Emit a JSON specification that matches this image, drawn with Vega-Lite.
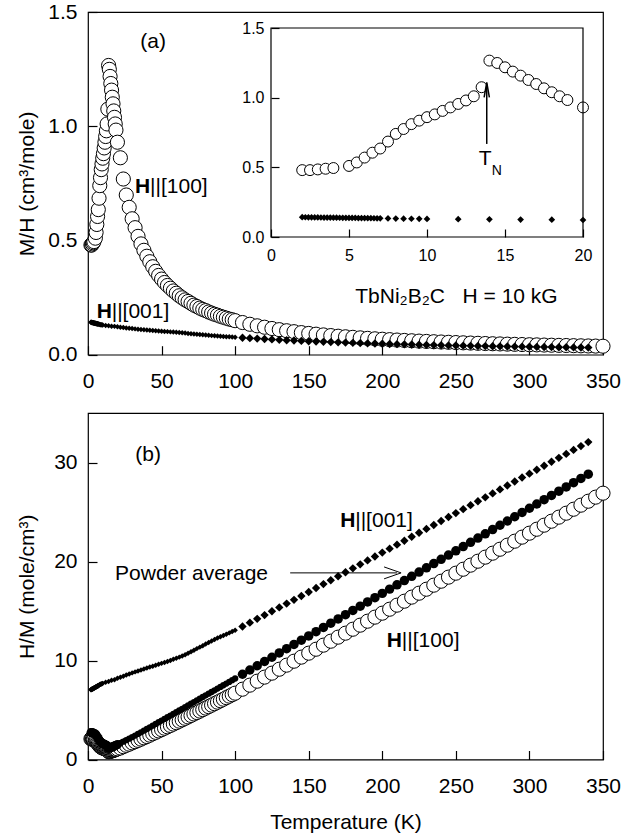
{
"$schema": "https://vega.github.io/schema/vega-lite/v6.json",
"padding": {"left": 16, "top": 0, "right": 5, "bottom": 5},
"spacing": 19,
"datasets": {
"a100": [{"T":2,"MH":0.48,"HM":2.08},{"T":2.5,"MH":0.48,"HM":2.08},{"T":3,"MH":0.485,"HM":2.06},{"T":3.5,"MH":0.49,"HM":2.04},{"T":4,"MH":0.495,"HM":2.02},{"T":5,"MH":0.51,"HM":1.96},{"T":5.5,"MH":0.535,"HM":1.87},{"T":6,"MH":0.57,"HM":1.75},{"T":6.5,"MH":0.605,"HM":1.65},{"T":7,"MH":0.635,"HM":1.57},{"T":7.5,"MH":0.685,"HM":1.46},{"T":8,"MH":0.74,"HM":1.35},{"T":8.5,"MH":0.775,"HM":1.29},{"T":9,"MH":0.81,"HM":1.23},{"T":9.5,"MH":0.835,"HM":1.2},{"T":10,"MH":0.86,"HM":1.16},{"T":10.5,"MH":0.88,"HM":1.14},{"T":11,"MH":0.905,"HM":1.1},{"T":11.5,"MH":0.93,"HM":1.08},{"T":12,"MH":0.955,"HM":1.05},{"T":12.5,"MH":0.98,"HM":1.02},{"T":13,"MH":1.01,"HM":0.99},{"T":13.5,"MH":1.075,"HM":0.93},{"T":14,"MH":1.266,"HM":0.79},{"T":14.5,"MH":1.249,"HM":0.8},{"T":15,"MH":1.218,"HM":0.82},{"T":15.5,"MH":1.187,"HM":0.84},{"T":16,"MH":1.158,"HM":0.86},{"T":16.5,"MH":1.127,"HM":0.89},{"T":17,"MH":1.098,"HM":0.91},{"T":17.5,"MH":1.067,"HM":0.94},{"T":18,"MH":1.039,"HM":0.96},{"T":18.5,"MH":1.01,"HM":0.99},{"T":19,"MH":0.983,"HM":1.02},{"T":20,"MH":0.93,"HM":1.075},
{"T":22,"MH":0.862,"HM":1.16},{"T":24,"MH":0.769,"HM":1.3},{"T":26,"MH":0.699,"HM":1.43},{"T":28,"MH":0.645,"HM":1.55},{"T":30,"MH":0.595,"HM":1.68},{"T":32,"MH":0.556,"HM":1.8},{"T":34,"MH":0.518,"HM":1.93},{"T":36,"MH":0.485,"HM":2.06},{"T":38,"MH":0.457,"HM":2.19},{"T":40,"MH":0.431,"HM":2.32},{"T":42,"MH":0.407,"HM":2.46},{"T":44,"MH":0.385,"HM":2.6},{"T":46,"MH":0.365,"HM":2.74},{"T":48,"MH":0.347,"HM":2.88},{"T":50,"MH":0.331,"HM":3.02},{"T":52,"MH":0.316,"HM":3.16},{"T":54,"MH":0.303,"HM":3.3},{"T":56,"MH":0.291,"HM":3.44},{"T":58,"MH":0.279,"HM":3.58},{"T":60,"MH":0.269,"HM":3.72},{"T":62,"MH":0.258,"HM":3.87},{"T":64,"MH":0.249,"HM":4.01},{"T":66,"MH":0.24,"HM":4.16},{"T":68,"MH":0.233,"HM":4.3},{"T":70,"MH":0.225,"HM":4.45},{"T":72,"MH":0.217,"HM":4.6},{"T":74,"MH":0.211,"HM":4.74},{"T":76,"MH":0.204,"HM":4.89},{"T":78,"MH":0.198,"HM":5.04},{"T":80,"MH":0.193,"HM":5.19},{"T":82,"MH":0.187,"HM":5.34},{"T":84,"MH":0.182,"HM":5.49},{"T":86,"MH":0.177,"HM":5.64},{"T":88,"MH":0.173,"HM":5.79},{"T":90,"MH":0.168,"HM":5.94},{"T":92,"MH":0.164,"HM":6.09},{"T":94,"MH":0.16,"HM":6.25},{"T":96,"MH":0.156,"HM":6.4},{"T":98,"MH":0.153,"HM":6.55},{"T":100,"MH":0.149,"HM":6.7},
{"T":105,"MH":0.1408,"HM":7.1},{"T":110,"MH":0.1332,"HM":7.51},{"T":115,"MH":0.1264,"HM":7.91},{"T":120,"MH":0.1202,"HM":8.32},{"T":125,"MH":0.1147,"HM":8.72},{"T":130,"MH":0.1096,"HM":9.12},{"T":135,"MH":0.1049,"HM":9.53},{"T":140,"MH":0.1007,"HM":9.93},{"T":145,"MH":0.0967,"HM":10.34},{"T":150,"MH":0.0931,"HM":10.74},{"T":155,"MH":0.0898,"HM":11.14},{"T":160,"MH":0.0866,"HM":11.55},{"T":165,"MH":0.0837,"HM":11.95},{"T":170,"MH":0.0809,"HM":12.36},{"T":175,"MH":0.0784,"HM":12.76},{"T":180,"MH":0.076,"HM":13.16},{"T":185,"MH":0.0737,"HM":13.57},{"T":190,"MH":0.0716,"HM":13.97},{"T":195,"MH":0.0695,"HM":14.38},{"T":200,"MH":0.0677,"HM":14.78},{"T":205,"MH":0.0659,"HM":15.18},{"T":210,"MH":0.0641,"HM":15.59},{"T":215,"MH":0.0625,"HM":15.99},{"T":220,"MH":0.061,"HM":16.4},{"T":225,"MH":0.0595,"HM":16.8},{"T":230,"MH":0.0581,"HM":17.2},{"T":235,"MH":0.0568,"HM":17.61},{"T":240,"MH":0.0555,"HM":18.01},{"T":245,"MH":0.0543,"HM":18.42},{"T":250,"MH":0.0531,"HM":18.82},{"T":255,"MH":0.052,"HM":19.22},{"T":260,"MH":0.0509,"HM":19.63},{"T":265,"MH":0.0499,"HM":20.03},{"T":270,"MH":0.0489,"HM":20.44},{"T":275,"MH":0.048,"HM":20.84},{"T":280,"MH":0.0471,"HM":21.24},{"T":285,"MH":0.0462,"HM":21.65},{"T":290,"MH":0.0454,"HM":22.05},{"T":295,"MH":0.0445,"HM":22.46},{"T":300,"MH":0.0437,"HM":22.86},{"T":305,"MH":0.043,"HM":23.26},{"T":310,"MH":0.0422,"HM":23.67},{"T":315,"MH":0.0415,"HM":24.07},{"T":320,"MH":0.0408,"HM":24.48},{"T":325,"MH":0.0402,"HM":24.88},{"T":330,"MH":0.0396,"HM":25.28},{"T":335,"MH":0.0389,"HM":25.69},{"T":340,"MH":0.0383,"HM":26.09},{"T":345,"MH":0.0377,"HM":26.5},{"T":350,"MH":0.0372,"HM":26.9}],
"c001": [{"T":2,"MH":0.142,"HM":7.04},{"T":2.2,"MH":0.1417,"HM":7.06},{"T":2.4,"MH":0.1414,"HM":7.07},{"T":2.6,"MH":0.141,"HM":7.09},{"T":2.8,"MH":0.1407,"HM":7.11},{"T":3,"MH":0.1404,"HM":7.12},{"T":3.2,"MH":0.1401,"HM":7.14},{"T":3.4,"MH":0.1398,"HM":7.15},{"T":3.6,"MH":0.1394,"HM":7.17},{"T":3.8,"MH":0.1391,"HM":7.19},{"T":4,"MH":0.1388,"HM":7.2},{"T":4.2,"MH":0.1385,"HM":7.22},{"T":4.4,"MH":0.1382,"HM":7.24},{"T":4.6,"MH":0.1378,"HM":7.26},{"T":4.8,"MH":0.1375,"HM":7.27},{"T":5,"MH":0.1372,"HM":7.29},{"T":5.2,"MH":0.1369,"HM":7.3},{"T":5.4,"MH":0.1366,"HM":7.32},{"T":5.6,"MH":0.1362,"HM":7.34},{"T":5.8,"MH":0.1359,"HM":7.36},{"T":6,"MH":0.1356,"HM":7.37},{"T":6.2,"MH":0.1353,"HM":7.39},{"T":6.4,"MH":0.135,"HM":7.41},{"T":6.6,"MH":0.1346,"HM":7.43},{"T":6.8,"MH":0.1343,"HM":7.45},{"T":7,"MH":0.134,"HM":7.46},{"T":7.5,"MH":0.1335,"HM":7.49},{"T":8,"MH":0.132,"HM":7.58},{"T":8.5,"MH":0.1315,"HM":7.6},{"T":9,"MH":0.131,"HM":7.63},{"T":9.5,"MH":0.1305,"HM":7.66},{"T":10,"MH":0.13,"HM":7.69},{"T":12,"MH":0.128,"HM":7.81},{"T":14,"MH":0.127,"HM":7.87},{"T":16,"MH":0.125,"HM":8},{"T":18,"MH":0.124,"HM":8.06},{"T":20,"MH":0.122,"HM":8.2},
{"T":22,"MH":0.1204,"HM":8.31},{"T":24,"MH":0.1188,"HM":8.42},{"T":26,"MH":0.1172,"HM":8.53},{"T":28,"MH":0.1157,"HM":8.64},{"T":30,"MH":0.1143,"HM":8.75},{"T":32,"MH":0.113,"HM":8.85},{"T":34,"MH":0.1117,"HM":8.95},{"T":36,"MH":0.1106,"HM":9.04},{"T":38,"MH":0.1094,"HM":9.14},{"T":40,"MH":0.1082,"HM":9.24},{"T":42,"MH":0.1071,"HM":9.34},{"T":44,"MH":0.106,"HM":9.43},{"T":46,"MH":0.1049,"HM":9.53},{"T":48,"MH":0.104,"HM":9.62},{"T":50,"MH":0.103,"HM":9.71},{"T":52,"MH":0.102,"HM":9.8},{"T":54,"MH":0.101,"HM":9.9},{"T":56,"MH":0.0999,"HM":10.01},{"T":58,"MH":0.0989,"HM":10.12},{"T":60,"MH":0.0978,"HM":10.23},{"T":62,"MH":0.0967,"HM":10.34},{"T":64,"MH":0.0957,"HM":10.45},{"T":66,"MH":0.0945,"HM":10.58},{"T":68,"MH":0.0932,"HM":10.73},{"T":70,"MH":0.0918,"HM":10.89},{"T":72,"MH":0.0906,"HM":11.04},{"T":74,"MH":0.0893,"HM":11.2},{"T":76,"MH":0.0881,"HM":11.35},{"T":78,"MH":0.087,"HM":11.5},{"T":80,"MH":0.0858,"HM":11.66},{"T":82,"MH":0.0847,"HM":11.81},{"T":84,"MH":0.0835,"HM":11.97},{"T":86,"MH":0.0825,"HM":12.12},{"T":88,"MH":0.0815,"HM":12.27},{"T":90,"MH":0.0806,"HM":12.4},{"T":92,"MH":0.0798,"HM":12.53},{"T":94,"MH":0.079,"HM":12.66},{"T":96,"MH":0.0782,"HM":12.79},{"T":98,"MH":0.0774,"HM":12.92},{"T":100,"MH":0.0766,"HM":13.05},
{"T":105,"MH":0.0744,"HM":13.44},{"T":110,"MH":0.0724,"HM":13.82},{"T":115,"MH":0.0704,"HM":14.21},{"T":120,"MH":0.0685,"HM":14.59},{"T":125,"MH":0.0668,"HM":14.98},{"T":130,"MH":0.0651,"HM":15.36},{"T":135,"MH":0.0635,"HM":15.75},{"T":140,"MH":0.062,"HM":16.13},{"T":145,"MH":0.0605,"HM":16.52},{"T":150,"MH":0.0591,"HM":16.92},{"T":155,"MH":0.0577,"HM":17.32},{"T":160,"MH":0.0564,"HM":17.72},{"T":165,"MH":0.0552,"HM":18.11},{"T":170,"MH":0.054,"HM":18.51},{"T":175,"MH":0.0529,"HM":18.91},{"T":180,"MH":0.0518,"HM":19.31},{"T":185,"MH":0.0507,"HM":19.71},{"T":190,"MH":0.0497,"HM":20.11},{"T":195,"MH":0.0488,"HM":20.51},{"T":200,"MH":0.0478,"HM":20.9},{"T":205,"MH":0.0469,"HM":21.3},{"T":210,"MH":0.0461,"HM":21.7},{"T":215,"MH":0.0452,"HM":22.1},{"T":220,"MH":0.0444,"HM":22.5},{"T":225,"MH":0.0437,"HM":22.9},{"T":230,"MH":0.0429,"HM":23.29},{"T":235,"MH":0.0422,"HM":23.69},{"T":240,"MH":0.0415,"HM":24.09},{"T":245,"MH":0.0408,"HM":24.49},{"T":250,"MH":0.0402,"HM":24.89},{"T":255,"MH":0.0395,"HM":25.29},{"T":260,"MH":0.0389,"HM":25.69},{"T":265,"MH":0.0383,"HM":26.08},{"T":270,"MH":0.0378,"HM":26.48},{"T":275,"MH":0.0372,"HM":26.88},{"T":280,"MH":0.0367,"HM":27.28},{"T":285,"MH":0.0361,"HM":27.68},{"T":290,"MH":0.0356,"HM":28.08},{"T":295,"MH":0.0351,"HM":28.48},{"T":300,"MH":0.0346,"HM":28.87},{"T":305,"MH":0.0342,"HM":29.27},{"T":310,"MH":0.0337,"HM":29.67},{"T":315,"MH":0.0333,"HM":30.07},{"T":320,"MH":0.0328,"HM":30.47},{"T":325,"MH":0.0324,"HM":30.87},{"T":330,"MH":0.032,"HM":31.27},{"T":335,"MH":0.0316,"HM":31.66},{"T":340,"MH":0.0312,"HM":32.06}],
"pw": [{"T":2,"HM":2.72},{"T":2.5,"HM":2.72},{"T":3,"HM":2.7},{"T":3.5,"HM":2.68},{"T":4,"HM":2.65},{"T":5,"HM":2.59},{"T":5.5,"HM":2.48},{"T":6,"HM":2.35},{"T":6.5,"HM":2.23},{"T":7,"HM":2.13},{"T":7.5,"HM":1.99},{"T":8,"HM":1.86},{"T":8.5,"HM":1.78},{"T":9,"HM":1.71},{"T":9.5,"HM":1.66},{"T":10,"HM":1.62},{"T":10.5,"HM":1.59},{"T":11,"HM":1.54},{"T":11.5,"HM":1.51},{"T":12,"HM":1.47},{"T":12.5,"HM":1.44},{"T":13,"HM":1.4},{"T":13.5,"HM":1.32},{"T":14,"HM":1.13},{"T":14.5,"HM":1.14},{"T":15,"HM":1.17},{"T":15.5,"HM":1.2},{"T":16,"HM":1.23},{"T":16.5,"HM":1.26},{"T":17,"HM":1.29},{"T":17.5,"HM":1.33},{"T":18,"HM":1.36},{"T":18.5,"HM":1.4},{"T":19,"HM":1.44},{"T":20,"HM":1.51},
{"T":22,"HM":1.65},{"T":24,"HM":1.8},{"T":26,"HM":1.95},{"T":28,"HM":2.1},{"T":30,"HM":2.26},{"T":32,"HM":2.42},{"T":34,"HM":2.58},{"T":36,"HM":2.74},{"T":38,"HM":2.91},{"T":40,"HM":3.08},{"T":42,"HM":3.25},{"T":44,"HM":3.42},{"T":46,"HM":3.59},{"T":48,"HM":3.76},{"T":50,"HM":3.93},{"T":52,"HM":4.1},{"T":54,"HM":4.27},{"T":56,"HM":4.44},{"T":58,"HM":4.61},{"T":60,"HM":4.78},{"T":62,"HM":4.95},{"T":64,"HM":5.12},{"T":66,"HM":5.29},{"T":68,"HM":5.46},{"T":70,"HM":5.63},{"T":72,"HM":5.8},{"T":74,"HM":5.97},{"T":76,"HM":6.14},{"T":78,"HM":6.31},{"T":80,"HM":6.48},{"T":82,"HM":6.65},{"T":84,"HM":6.82},{"T":86,"HM":6.99},{"T":88,"HM":7.16},{"T":90,"HM":7.33},{"T":92,"HM":7.5},{"T":94,"HM":7.67},{"T":96,"HM":7.84},{"T":98,"HM":8.01},{"T":100,"HM":8.18},
{"T":105,"HM":8.61},{"T":110,"HM":9.04},{"T":115,"HM":9.47},{"T":120,"HM":9.9},{"T":125,"HM":10.33},{"T":130,"HM":10.76},{"T":135,"HM":11.19},{"T":140,"HM":11.62},{"T":145,"HM":12.05},{"T":150,"HM":12.48},{"T":155,"HM":12.91},{"T":160,"HM":13.34},{"T":165,"HM":13.77},{"T":170,"HM":14.2},{"T":175,"HM":14.63},{"T":180,"HM":15.06},{"T":185,"HM":15.49},{"T":190,"HM":15.92},{"T":195,"HM":16.35},{"T":200,"HM":16.78},{"T":205,"HM":17.21},{"T":210,"HM":17.64},{"T":215,"HM":18.07},{"T":220,"HM":18.5},{"T":225,"HM":18.93},{"T":230,"HM":19.36},{"T":235,"HM":19.79},{"T":240,"HM":20.22},{"T":245,"HM":20.65},{"T":250,"HM":21.08},{"T":255,"HM":21.51},{"T":260,"HM":21.94},{"T":265,"HM":22.37},{"T":270,"HM":22.8},{"T":275,"HM":23.23},{"T":280,"HM":23.66},{"T":285,"HM":24.09},{"T":290,"HM":24.52},{"T":295,"HM":24.95},{"T":300,"HM":25.38},{"T":305,"HM":25.81},{"T":310,"HM":26.24},{"T":315,"HM":26.67},{"T":320,"HM":27.1},{"T":325,"HM":27.53},{"T":330,"HM":27.96},{"T":335,"HM":28.39},{"T":340,"HM":28.82}]
},
"vconcat": [
{
"width": 515, "height": 342.7,
"layer": [
{"data": {"name": "a100"},
 "mark": {"type": "point", "shape": "circle", "filled": true, "fill": "white", "stroke": "black", "strokeWidth": 1, "size": 200, "opacity": 1},
 "encoding": {
  "x": {"field": "T", "type": "quantitative", "scale": {"domain": [0, 350], "nice": false, "zero": false},
        "axis": {"orient": "bottom", "offset": -9, "values": [0,50,100,150,200,250,300,350], "domain": false, "tickSize": 9, "labelPadding": 16, "title": null}},
  "y": {"field": "MH", "type": "quantitative", "scale": {"domain": [0, 1.5], "nice": false, "zero": false},
        "axis": {"orient": "left", "offset": -9, "values": [0,0.5,1,1.5], "format": ".1f", "domain": false, "tickSize": 9, "labelPadding": 11, "title": "M/H (cm³/mole)", "titlePadding": 10}}
 }},
{"data": {"name": "c001"}, "transform": [{"filter": "datum.T <= 100"}],
 "mark": {"type": "point", "shape": "diamond", "filled": true, "color": "black", "size": 30, "opacity": 1},
 "encoding": {
  "x": {"field": "T", "type": "quantitative", "scale": {"domain": [0, 350], "nice": false, "zero": false}, "axis": null},
  "y": {"field": "MH", "type": "quantitative", "scale": {"domain": [0, 1.5], "nice": false, "zero": false}, "axis": null}
 }},
{"data": {"name": "c001"}, "transform": [{"filter": "datum.T > 100"}],
 "mark": {"type": "point", "shape": "diamond", "filled": true, "color": "black", "size": 70, "opacity": 1},
 "encoding": {
  "x": {"field": "T", "type": "quantitative", "scale": {"domain": [0, 350], "nice": false, "zero": false}, "axis": null},
  "y": {"field": "MH", "type": "quantitative", "scale": {"domain": [0, 1.5], "nice": false, "zero": false}, "axis": null}
 }},
{"data": {"values": [{}]}, "mark": {"type": "text", "text": "(a)", "align": "center", "baseline": "middle", "fontSize": 21},
 "encoding": {"x": {"datum": 44.2, "type": "quantitative", "scale": {"domain": [0, 350], "nice": false, "zero": false}, "axis": null}, "y": {"datum": 1.368, "type": "quantitative", "scale": {"domain": [0, 1.5], "nice": false, "zero": false}, "axis": null}}},
{"data": {"values": [{}]}, "mark": {"type": "text", "text": "H", "fontWeight": "bold", "align": "left", "baseline": "middle", "fontSize": 21},
 "encoding": {"x": {"datum": 32, "type": "quantitative", "scale": {"domain": [0, 350], "nice": false, "zero": false}, "axis": null}, "y": {"datum": 0.733, "type": "quantitative", "scale": {"domain": [0, 1.5], "nice": false, "zero": false}, "axis": null}}},
{"data": {"values": [{}]}, "mark": {"type": "text", "text": "||[100]", "align": "left", "baseline": "middle", "fontSize": 21, "dx": 15},
 "encoding": {"x": {"datum": 32, "type": "quantitative", "scale": {"domain": [0, 350], "nice": false, "zero": false}, "axis": null}, "y": {"datum": 0.733, "type": "quantitative", "scale": {"domain": [0, 1.5], "nice": false, "zero": false}, "axis": null}}},
{"data": {"values": [{}]}, "mark": {"type": "text", "text": "H", "fontWeight": "bold", "align": "left", "baseline": "middle", "fontSize": 21},
 "encoding": {"x": {"datum": 5.9, "type": "quantitative", "scale": {"domain": [0, 350], "nice": false, "zero": false}, "axis": null}, "y": {"datum": 0.188, "type": "quantitative", "scale": {"domain": [0, 1.5], "nice": false, "zero": false}, "axis": null}}},
{"data": {"values": [{}]}, "mark": {"type": "text", "text": "||[001]", "align": "left", "baseline": "middle", "fontSize": 21, "dx": 15},
 "encoding": {"x": {"datum": 5.9, "type": "quantitative", "scale": {"domain": [0, 350], "nice": false, "zero": false}, "axis": null}, "y": {"datum": 0.188, "type": "quantitative", "scale": {"domain": [0, 1.5], "nice": false, "zero": false}, "axis": null}}},
{"data": {"values": [{}]}, "mark": {"type": "text", "text": "TbNi₂B₂C\u00a0\u00a0 H = 10 kG", "align": "left", "baseline": "middle", "fontSize": 21},
 "encoding": {"x": {"datum": 181.6, "type": "quantitative", "scale": {"domain": [0, 350], "nice": false, "zero": false}, "axis": null}, "y": {"datum": 0.253, "type": "quantitative", "scale": {"domain": [0, 1.5], "nice": false, "zero": false}, "axis": null}}},
{"data": {"name": "a100"}, "transform": [{"filter": "datum.T <= 20"}],
 "mark": {"type": "point", "shape": "circle", "filled": true, "fill": "white", "stroke": "black", "strokeWidth": 1, "size": 120, "opacity": 1},
 "encoding": {
  "x": {"field": "T", "type": "quantitative", "scale": {"domain": [0, 20], "range": [183, 495], "nice": false, "zero": false},
        "axis": {"orient": "bottom", "offset": -125.7, "values": [0,5,10,15,20], "domain": false, "tickSize": 8, "labelPadding": 10, "labelFontSize": 16, "title": null}},
  "y": {"field": "MH", "type": "quantitative", "scale": {"domain": [0, 1.5], "range": [225, 16], "nice": false, "zero": false},
        "axis": {"orient": "left", "offset": -191, "values": [0,0.5,1,1.5], "format": ".1f", "domain": false, "tickSize": 8, "labelPadding": 7, "labelFontSize": 16, "title": null}}
 }},
{"data": {"values": [{}]}, "mark": {"type": "rect", "filled": false, "fill": null, "stroke": "black", "strokeWidth": 1.2},
 "encoding": {"x": {"datum": 0, "type": "quantitative", "scale": {"domain": [0, 20], "range": [183, 495], "nice": false, "zero": false}, "axis": null}, "x2": {"datum": 20}, "y": {"datum": 0, "type": "quantitative", "scale": {"domain": [0, 1.5], "range": [225, 16], "nice": false, "zero": false}, "axis": null}, "y2": {"datum": 1.5}}},
{"data": {"name": "c001"}, "transform": [{"filter": "datum.T <= 20"}],
 "mark": {"type": "point", "shape": "diamond", "filled": true, "color": "black", "size": 45, "opacity": 1},
 "encoding": {
  "x": {"field": "T", "type": "quantitative", "scale": {"domain": [0, 20], "range": [183, 495], "nice": false, "zero": false}, "axis": null},
  "y": {"field": "MH", "type": "quantitative", "scale": {"domain": [0, 1.5], "range": [225, 16], "nice": false, "zero": false}, "axis": null}
 }},
{"data": {"values": [{}]}, "mark": {"type": "text", "text": "T", "align": "center", "baseline": "middle", "fontSize": 21},
 "encoding": {"x": {"datum": 13.72, "type": "quantitative", "scale": {"domain": [0, 20], "range": [183, 495], "nice": false, "zero": false}, "axis": null}, "y": {"datum": 0.56, "type": "quantitative", "scale": {"domain": [0, 1.5], "range": [225, 16], "nice": false, "zero": false}, "axis": null}}},
{"data": {"values": [{}]}, "mark": {"type": "text", "text": "N", "align": "center", "baseline": "middle", "fontSize": 14},
 "encoding": {"x": {"datum": 14.47, "type": "quantitative", "scale": {"domain": [0, 20], "range": [183, 495], "nice": false, "zero": false}, "axis": null}, "y": {"datum": 0.476, "type": "quantitative", "scale": {"domain": [0, 1.5], "range": [225, 16], "nice": false, "zero": false}, "axis": null}}},
{"data": {"values": [{}]}, "mark": {"type": "rule", "color": "black", "strokeWidth": 1.5},
 "encoding": {"x": {"datum": 13.83, "type": "quantitative", "scale": {"domain": [0, 20], "range": [183, 495], "nice": false, "zero": false}, "axis": null}, "y": {"datum": 0.668, "type": "quantitative", "scale": {"domain": [0, 1.5], "range": [225, 16], "nice": false, "zero": false}, "axis": null}, "y2": {"datum": 1.1}}},
{"data": {"values": [{}]}, "mark": {"type": "point", "shape": "M-0.35,1L0,-1L0.35,1", "filled": false, "stroke": "black", "strokeWidth": 1.5, "size": 225, "opacity": 1},
 "encoding": {"x": {"datum": 13.83, "type": "quantitative", "scale": {"domain": [0, 20], "range": [183, 495], "nice": false, "zero": false}, "axis": null}, "y": {"datum": 1.056, "type": "quantitative", "scale": {"domain": [0, 1.5], "range": [225, 16], "nice": false, "zero": false}, "axis": null}}}
],
"resolve": {"scale": {"x": "independent", "y": "independent"}, "axis": {"x": "independent", "y": "independent"}}
},
{
"width": 515, "height": 346.5,
"layer": [
{"data": {"name": "a100"},
 "mark": {"type": "point", "shape": "circle", "filled": true, "fill": "white", "stroke": "black", "strokeWidth": 1, "size": 200, "opacity": 1},
 "encoding": {
  "x": {"field": "T", "type": "quantitative", "scale": {"domain": [0, 350], "nice": false, "zero": false},
        "axis": {"orient": "bottom", "offset": -9, "values": [0,50,100,150,200,250,300,350], "domain": false, "tickSize": 9, "labelPadding": 16, "title": "Temperature (K)", "titlePadding": 15}},
  "y": {"field": "HM", "type": "quantitative", "scale": {"domain": [0, 35], "nice": false, "zero": false},
        "axis": {"orient": "left", "offset": -9, "values": [0,10,20,30], "domain": false, "tickSize": 9, "labelPadding": 11, "title": "H/M (mole/cm³)", "titlePadding": 16}}
 }},
{"data": {"name": "pw"}, "transform": [{"filter": "datum.T <= 20"}],
 "mark": {"type": "point", "shape": "circle", "filled": true, "color": "black", "size": 80, "opacity": 1},
 "encoding": {
  "x": {"field": "T", "type": "quantitative", "scale": {"domain": [0, 350], "nice": false, "zero": false}, "axis": null},
  "y": {"field": "HM", "type": "quantitative", "scale": {"domain": [0, 35], "nice": false, "zero": false}, "axis": null}
 }},
{"data": {"name": "pw"}, "transform": [{"filter": "datum.T > 20 && datum.T <= 100"}],
 "mark": {"type": "point", "shape": "circle", "filled": true, "color": "black", "size": 40, "opacity": 1},
 "encoding": {
  "x": {"field": "T", "type": "quantitative", "scale": {"domain": [0, 350], "nice": false, "zero": false}, "axis": null},
  "y": {"field": "HM", "type": "quantitative", "scale": {"domain": [0, 35], "nice": false, "zero": false}, "axis": null}
 }},
{"data": {"name": "pw"}, "transform": [{"filter": "datum.T > 100"}],
 "mark": {"type": "point", "shape": "circle", "filled": true, "color": "black", "size": 90, "opacity": 1},
 "encoding": {
  "x": {"field": "T", "type": "quantitative", "scale": {"domain": [0, 350], "nice": false, "zero": false}, "axis": null},
  "y": {"field": "HM", "type": "quantitative", "scale": {"domain": [0, 35], "nice": false, "zero": false}, "axis": null}
 }},
{"data": {"name": "c001"}, "transform": [{"filter": "datum.T <= 100"}],
 "mark": {"type": "point", "shape": "diamond", "filled": true, "color": "black", "size": 30, "opacity": 1},
 "encoding": {
  "x": {"field": "T", "type": "quantitative", "scale": {"domain": [0, 350], "nice": false, "zero": false}, "axis": null},
  "y": {"field": "HM", "type": "quantitative", "scale": {"domain": [0, 35], "nice": false, "zero": false}, "axis": null}
 }},
{"data": {"name": "c001"}, "transform": [{"filter": "datum.T > 100"}],
 "mark": {"type": "point", "shape": "diamond", "filled": true, "color": "black", "size": 70, "opacity": 1},
 "encoding": {
  "x": {"field": "T", "type": "quantitative", "scale": {"domain": [0, 350], "nice": false, "zero": false}, "axis": null},
  "y": {"field": "HM", "type": "quantitative", "scale": {"domain": [0, 35], "nice": false, "zero": false}, "axis": null}
 }},
{"data": {"values": [{}]}, "mark": {"type": "text", "text": "(b)", "align": "center", "baseline": "middle", "fontSize": 21},
 "encoding": {"x": {"datum": 40.9, "type": "quantitative", "scale": {"domain": [0, 350], "nice": false, "zero": false}, "axis": null}, "y": {"datum": 30.8, "type": "quantitative", "scale": {"domain": [0, 35], "nice": false, "zero": false}, "axis": null}}},
{"data": {"values": [{}]}, "mark": {"type": "text", "text": "Powder average", "align": "left", "baseline": "middle", "fontSize": 21},
 "encoding": {"x": {"datum": 18.4, "type": "quantitative", "scale": {"domain": [0, 350], "nice": false, "zero": false}, "axis": null}, "y": {"datum": 18.7, "type": "quantitative", "scale": {"domain": [0, 35], "nice": false, "zero": false}, "axis": null}}},
{"data": {"values": [{}]}, "mark": {"type": "rule", "color": "black", "strokeWidth": 1},
 "encoding": {"x": {"datum": 137.4, "type": "quantitative", "scale": {"domain": [0, 350], "nice": false, "zero": false}, "axis": null}, "x2": {"datum": 210}, "y": {"datum": 18.85, "type": "quantitative", "scale": {"domain": [0, 35], "nice": false, "zero": false}, "axis": null}}},
{"data": {"values": [{}]}, "mark": {"type": "point", "shape": "M-1,-0.7L1,0L-1,0.7", "filled": false, "stroke": "black", "strokeWidth": 1, "size": 289, "opacity": 1},
 "encoding": {"x": {"datum": 207, "type": "quantitative", "scale": {"domain": [0, 350], "nice": false, "zero": false}, "axis": null}, "y": {"datum": 18.85, "type": "quantitative", "scale": {"domain": [0, 35], "nice": false, "zero": false}, "axis": null}}},
{"data": {"values": [{}]}, "mark": {"type": "text", "text": "H", "fontWeight": "bold", "align": "left", "baseline": "middle", "fontSize": 21},
 "encoding": {"x": {"datum": 171.4, "type": "quantitative", "scale": {"domain": [0, 350], "nice": false, "zero": false}, "axis": null}, "y": {"datum": 24.07, "type": "quantitative", "scale": {"domain": [0, 35], "nice": false, "zero": false}, "axis": null}}},
{"data": {"values": [{}]}, "mark": {"type": "text", "text": "||[001]", "align": "left", "baseline": "middle", "fontSize": 21, "dx": 15},
 "encoding": {"x": {"datum": 171.4, "type": "quantitative", "scale": {"domain": [0, 350], "nice": false, "zero": false}, "axis": null}, "y": {"datum": 24.07, "type": "quantitative", "scale": {"domain": [0, 35], "nice": false, "zero": false}, "axis": null}}},
{"data": {"values": [{}]}, "mark": {"type": "text", "text": "H", "fontWeight": "bold", "align": "left", "baseline": "middle", "fontSize": 21},
 "encoding": {"x": {"datum": 203.1, "type": "quantitative", "scale": {"domain": [0, 350], "nice": false, "zero": false}, "axis": null}, "y": {"datum": 11.95, "type": "quantitative", "scale": {"domain": [0, 35], "nice": false, "zero": false}, "axis": null}}},
{"data": {"values": [{}]}, "mark": {"type": "text", "text": "||[100]", "align": "left", "baseline": "middle", "fontSize": 21, "dx": 15},
 "encoding": {"x": {"datum": 203.1, "type": "quantitative", "scale": {"domain": [0, 350], "nice": false, "zero": false}, "axis": null}, "y": {"datum": 11.95, "type": "quantitative", "scale": {"domain": [0, 35], "nice": false, "zero": false}, "axis": null}}}
],
"resolve": {"scale": {"x": "independent", "y": "independent"}, "axis": {"x": "independent", "y": "independent"}}
}
],
"config": {
 "font": "Liberation Sans",
 "view": {"stroke": "black", "strokeWidth": 1.2},
 "axis": {"labelFont": "Liberation Sans", "labelFontSize": 21, "labelColor": "black", "titleFont": "Liberation Sans", "titleFontSize": 21, "titleFontWeight": "normal", "titleColor": "black", "domainColor": "black", "domainWidth": 1.2, "tickColor": "black", "tickWidth": 1.2, "grid": false, "labelFlush": false, "labelOverlap": false},
 "text": {"font": "Liberation Sans", "color": "black"}
}
}
